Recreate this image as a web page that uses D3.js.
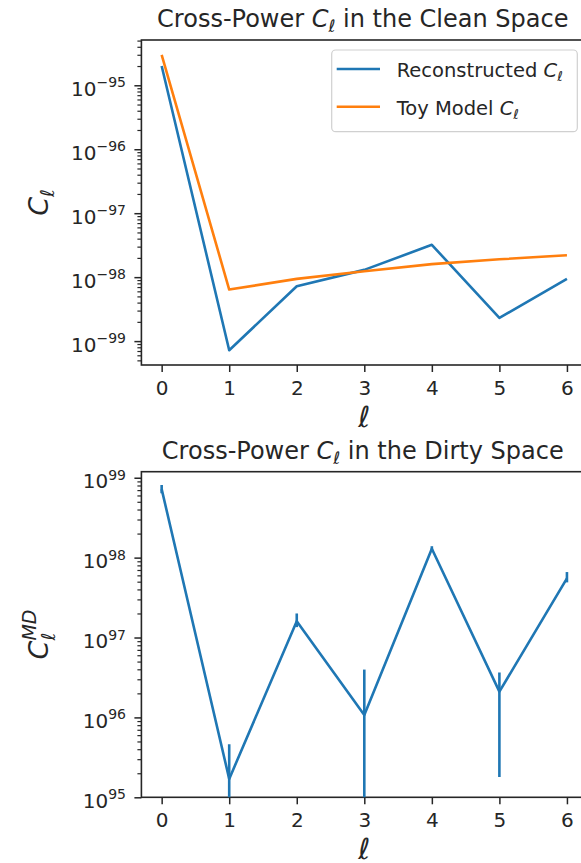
<!DOCTYPE html>
<html>
<head>
<meta charset="utf-8">
<script src="https://cdn.jsdelivr.net/npm/d3@7"></script>
<style>
  body { margin: 0; background: white; }
  svg { display: block; }
</style>
</head>
<body>
<div id="chart"></div>
<script>
// multipoles
var ells = [0, 1, 2, 3, 4, 5, 6]

// clean space cross-power
var reconCl = [2.0e-95, 7.2e-100, 7.2e-99, 1.3e-98, 3.2e-98, 2.3e-99, 9.4e-99]
var toyCl = [3.0e-95, 6.4e-99, 9.4e-99, 1.24e-98, 1.6e-98, 1.9e-98, 2.2e-98]

// dirty space cross-power with error bars
var dirtyCl = [7.2e98, 1.7e95, 1.6e97, 1.07e96, 1.29e98, 2.1e96, 5.5e97]
var dirtyErrUp = [0.9e98, 2.9e95, 0.4e97, 2.9e96, 0.1e98, 1.55e96, 1.1e97]
var dirtyErrLo = [0.8e98, 2.9e95, 0.25e97, 2.9e96, 0.1e98, 1.92e96, 0.6e97]
var dirtyYLim = [1e95, 1.19e99]

// tick labels
var xTicks = [0, 1, 2, 3, 4, 5, 6]
var cleanExp = [-95, -96, -97, -98, -99]
var dirtyExp = [95, 96, 97, 98, 99]

var W = 581, H = 863
var font = "'DejaVu Sans', sans-serif"
var blue = "#1f77b4", orange = "#ff7f0e", ink = "#262626"
var axLeft = 141.4, axRight = 587.2
var panels = [{top: 40, bottom: 365}, {top: 471.7, bottom: 797.3}]

var svg = d3.select("#chart").append("svg")
    .attr("width", W).attr("height", H)

var x = d3.scaleLinear().domain([-0.3, 6.3]).range([axLeft, axRight])

// log limits with 5% margin like matplotlib
var allClean = reconCl.concat(toyCl)
var lmin = Math.log10(d3.min(allClean)), lmax = Math.log10(d3.max(allClean))
var pad = (lmax - lmin) * 0.05
var yClean = d3.scaleLog().domain([Math.pow(10, lmin - pad), Math.pow(10, lmax + pad)])
    .range([panels[0].bottom, panels[0].top])
var yDirty = d3.scaleLog().domain(dirtyYLim).range([panels[1].bottom, panels[1].top])

function minorTicks(y) {
    var d = y.domain(), out = []
    var lo = Math.floor(Math.log10(d[0])), hi = Math.ceil(Math.log10(d[1]))
    for (var e = lo; e <= hi; e++) {
        for (var m = 2; m <= 9; m++) {
            var v = m * Math.pow(10, e)
            if (v >= d[0] && v <= d[1]) out.push(v)
        }
    }
    return out
}

// title with math C_ell
function mathTitle(g, cx, cy, pre, post, size) {
    var t = g.append("text").attr("x", cx).attr("y", cy)
        .attr("text-anchor", "middle")
        .style("font-family", font).style("font-size", size + "px").style("fill", ink)
    t.append("tspan").text(pre)
    t.append("tspan").text("C").style("font-style", "italic")
    t.append("tspan").text("ℓ").style("font-style", "italic")
        .style("font-size", (size * 0.7) + "px").attr("dy", size * 0.22)
    t.append("tspan").text(post).attr("dy", -size * 0.22)
    return t
}

function drawPanel(p, y, exps, titleWord) {
    var g = svg.append("g")
    var clipId = "clip" + titleWord
    svg.append("defs").append("clipPath").attr("id", clipId)
        .append("rect").attr("x", axLeft).attr("y", p.top)
        .attr("width", axRight - axLeft).attr("height", p.bottom - p.top)

    // x axis
    var xa = g.append("g").attr("transform", "translate(0," + p.bottom + ")")
        .call(d3.axisBottom(x).tickValues(xTicks).tickSize(7).tickPadding(7).tickFormat(d3.format("d")))
    xa.select(".domain").remove()
    xa.selectAll(".tick line").attr("stroke", ink).attr("stroke-width", 1.5)
    xa.selectAll(".tick text").style("font-family", font).style("font-size", "20px")
        .attr("fill", ink).attr("dy", null).attr("y", 30)

    // y axis: minor and major ticks
    var ym = g.append("g").attr("transform", "translate(" + axLeft + ",0)")
        .call(d3.axisLeft(y).tickValues(minorTicks(y)).tickSize(4).tickFormat(""))
    ym.select(".domain").remove()
    ym.selectAll(".tick line").attr("stroke", ink).attr("stroke-width", 1.2)
    var majors = exps.map(function(e) { return Math.pow(10, e) })
    var yM = g.append("g").attr("transform", "translate(" + axLeft + ",0)")
        .call(d3.axisLeft(y).tickValues(majors).tickSize(7).tickFormat(""))
    yM.select(".domain").remove()
    yM.selectAll(".tick line").attr("stroke", ink).attr("stroke-width", 1.5)

    exps.forEach(function(e) {
        var ty = y(Math.pow(10, e))
        var t = g.append("text").attr("x", 126).attr("y", ty + 10.5)
            .attr("text-anchor", "end")
            .style("font-family", font).style("font-size", "20px").style("fill", ink)
        t.append("tspan").text("10")
        t.append("tspan").text(String(e).replace("-", "−"))
            .style("font-size", "14px").attr("dy", -8.5)
    })

    // frame
    g.append("rect").attr("x", axLeft).attr("y", p.top)
        .attr("width", axRight - axLeft).attr("height", p.bottom - p.top)
        .attr("fill", "none").attr("stroke", ink).attr("stroke-width", 1.6)

    // title
    mathTitle(g, (axLeft + axRight) / 2 - 1.5, p.top - 13, "Cross-Power ",
        " in the " + titleWord + " Space", 24)

    // x label
    g.append("text").attr("x", (axLeft + axRight) / 2).attr("y", p.bottom + 62)
        .attr("text-anchor", "middle").style("font-family", font)
        .style("font-size", "29px").style("font-style", "italic").style("fill", ink)
        .text("ℓ")

    return g.append("g").attr("clip-path", "url(#" + clipId + ")")
}

// ---- top panel ----
var plotA = drawPanel(panels[0], yClean, cleanExp, "Clean")
var lineA = d3.line().x(function(d, i) { return x(ells[i]) }).y(function(d) { return yClean(d) })
plotA.append("path").attr("d", lineA(reconCl)).attr("fill", "none")
    .attr("stroke", blue).attr("stroke-width", 2.6).attr("stroke-linejoin", "round")
plotA.append("path").attr("d", lineA(toyCl)).attr("fill", "none")
    .attr("stroke", orange).attr("stroke-width", 2.6).attr("stroke-linejoin", "round")

// y label
function yLabel(cy, withMD) {
    var g = svg.append("g").attr("transform", "translate(48," + cy + ") rotate(-90)")
    var t = g.append("text").attr("text-anchor", "middle")
        .style("font-family", font).style("font-size", "27px").style("fill", ink)
    t.append("tspan").text("C").style("font-style", "italic")
    var sub = t.append("tspan").text("ℓ").style("font-style", "italic")
        .style("font-size", "19px").attr("dy", withMD ? 7 : 5.5)
    if (withMD) {
        var subW = sub.node().getComputedTextLength()
        t.append("tspan").text("MD").style("font-style", "italic")
            .style("font-size", "19px").attr("dx", -subW).attr("dy", -19)
    }
}
yLabel((panels[0].top + panels[0].bottom) / 2, false)

// legend
var leg = svg.append("g")
leg.append("rect").attr("x", 331.7).attr("y", 50).attr("width", 245.6).attr("height", 81.7)
    .attr("rx", 4).attr("fill", "white").attr("fill-opacity", 0.8)
    .attr("stroke", "#d0d0d0").attr("stroke-width", 1.2)
var legItems = [{name: "Reconstructed ", color: blue, y: 69}, {name: "Toy Model ", color: orange, y: 106.7}]
legItems.forEach(function(it) {
    leg.append("line").attr("x1", 336.7).attr("x2", 380).attr("y1", it.y).attr("y2", it.y)
        .attr("stroke", it.color).attr("stroke-width", 2.6)
    var t = leg.append("text").attr("x", 396.7).attr("y", it.y + 8)
        .style("font-family", font).style("font-size", "19.5px").style("fill", ink)
    t.append("tspan").text(it.name)
    t.append("tspan").text("C").style("font-style", "italic")
    t.append("tspan").text("ℓ").style("font-style", "italic").style("font-size", "13.6px").attr("dy", 4.3)
})

// ---- bottom panel ----
var plotB = drawPanel(panels[1], yDirty, dirtyExp, "Dirty")
var lineB = d3.line().x(function(d, i) { return x(ells[i]) }).y(function(d) { return yDirty(d) })
plotB.append("path").attr("d", lineB(dirtyCl)).attr("fill", "none")
    .attr("stroke", blue).attr("stroke-width", 2.6).attr("stroke-linejoin", "round")
plotB.selectAll(".err").data(dirtyCl).enter().append("line")
    .attr("x1", function(d, i) { return x(ells[i]) })
    .attr("x2", function(d, i) { return x(ells[i]) })
    .attr("y1", function(d, i) { return yDirty(d + dirtyErrUp[i]) })
    .attr("y2", function(d, i) {
        var lo = d - dirtyErrLo[i]
        return lo > 0 ? yDirty(lo) : panels[1].bottom + 5
    })
    .attr("stroke", blue).attr("stroke-width", 2.6)

yLabel((panels[1].top + panels[1].bottom) / 2, true)
</script>
</body>
</html>
